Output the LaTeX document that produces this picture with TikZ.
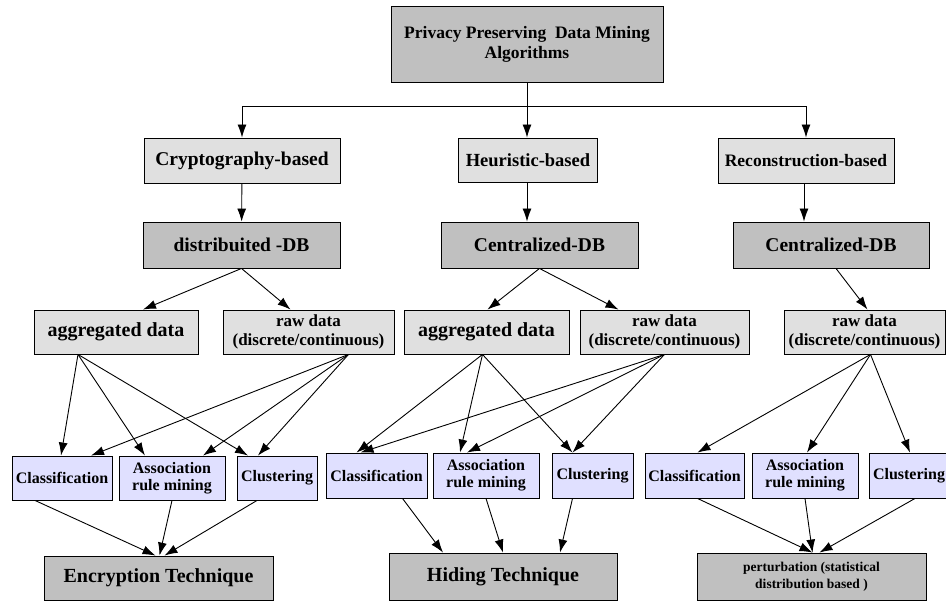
\documentclass[tikz,border=0pt]{standalone}
\usepackage{fontspec}
\setmainfont{Liberation Serif}
\usetikzlibrary{arrows.meta}
\tikzset{>={Latex[length=13pt,width=9pt]}}
\definecolor{boxdark}{HTML}{C0C0C0}
\definecolor{boxlight}{HTML}{E0E0E0}
\definecolor{boxalgo}{HTML}{E0E0FF}
\newcommand{\fsz}[2]{\bfseries\fontsize{#1}{#2}\selectfont}

\begin{document}
\begin{tikzpicture}[x=1pt,y=-1pt,line width=0.9pt,
  wh/.style 2 args={minimum width=#1pt,minimum height=#2pt},
  dark/.style={draw,fill=boxdark,inner sep=0pt,align=center},
  light/.style={draw,fill=boxlight,inner sep=0pt,align=center},
  algo/.style={draw,fill=boxalgo,inner sep=0pt,align=center,font=\fsz{16}{17}}]
\useasboundingbox (0,0) rectangle (946,601);
    \node[dark,wh={272}{76},font=\fsz{17.5}{20}] (ppdm) at (527,44) {Privacy Preserving\ \ Data Mining\\Algorithms};
    \node[light,wh={196}{45},font=\fsz{19.5}{22}] (crypto) at (242,160.5) {Cryptography-based};
    \node[light,wh={139}{44},font=\fsz{18.5}{21}] (heur) at (528,160) {Heuristic-based};
    \node[light,wh={176}{45},font=\fsz{17.5}{20}] (recon) at (806,160.5) {Reconstruction-based};
    \node[dark,wh={197}{46},font=\fsz{19.5}{22}] (ddb) at (241.5,245) {distribuited -DB};
    \node[dark,wh={197}{46},font=\fsz{19.5}{22}] (cdb1) at (539.5,245) {Centralized-DB};
    \node[dark,wh={196}{46},font=\fsz{19.5}{22}] (cdb2) at (831,245) {Centralized-DB};
    \node[light,wh={164}{44},font=\fsz{20}{22}] (agg1) at (116,332) {aggregated data};
    \node[light,wh={171}{44},font=\fsz{17}{19}] (raw1) at (308.5,332) {raw data\\(discrete/continuous)};
    \node[light,wh={165}{44},font=\fsz{20}{22}] (agg2) at (486.5,332) {aggregated data};
    \node[light,wh={169}{44},font=\fsz{17}{19}] (raw2) at (664.5,332) {raw data\\(discrete/continuous)};
    \node[light,wh={161}{44},font=\fsz{17}{19}] (raw3) at (864.5,332) {raw data\\(discrete/continuous)};
    \node[algo,wh={100}{44}] (cls1) at (62,478) {Classification};
    \node[algo,wh={106}{44}] (asc1) at (172,478) {Association\\rule mining};
    \node[algo,wh={80}{44}] (clu1) at (277,478) {Clustering};
    \node[algo,wh={101}{45}] (cls2) at (376.5,475.5) {Classification};
    \node[algo,wh={106}{45}] (asc2) at (486,475.5) {Association\\rule mining};
    \node[algo,wh={81}{45}] (clu2) at (592.5,475.5) {Clustering};
    \node[algo,wh={99}{45}] (cls3) at (694.5,475.5) {Classification};
    \node[algo,wh={106}{45}] (asc3) at (805,475.5) {Association\\rule mining};
    \node[algo,wh={80}{45}] (clu3) at (909,475.5) {Clustering};
    \node[dark,wh={229}{44},font=\fsz{20}{22}] (enc) at (158.5,578) {Encryption Technique};
    \node[dark,wh={228}{47},font=\fsz{20}{22}] (hid) at (503,576.5) {Hiding Technique};
    \node[dark,wh={229}{47},font=\fsz{13.5}{17}] (pert) at (811.5,576.5) {perturbation (statistical\\distribution based )};
    \draw[->] (ppdm.south) -- ++(0,24) coordinate (fork) -| (crypto.north);
    \draw[->] (fork) -| (recon.north);
    \draw[->] (fork) -- (fork |- heur.north);
    \draw[->] (crypto) -- (ddb);
    \draw[->] (heur.south -| fork) -- (fork |- cdb1.north);
    \draw[->] ([xshift=-2pt]recon.south) -- ([xshift=-2pt]recon.south |- cdb2.north);
    \draw[->] (ddb.south) -- ([xshift=27pt]agg1.north);
    \draw[->] (ddb.south) -- ([xshift=-18pt]raw1.north);
    \draw[->] (cdb1.south) -- ([xshift=1pt]agg2.north);
    \draw[->] (cdb1.south) -- ([xshift=-46pt]raw2.north);
    \draw[->] ([xshift=5pt]cdb2.south) -- ([xshift=3pt]raw3.north);
    \draw[->] ([xshift=-38pt]agg1.south) -- ([xshift=-1pt]cls1.north);
    \draw[->] ([xshift=-38pt]agg1.south) -- ([xshift=-27pt]asc1.north);
    \draw[->] ([xshift=-38pt]agg1.south) -- ([xshift=-29pt]clu1.north);
    \draw[->] ([xshift=40pt]raw1.south) -- ([xshift=29pt]cls1.north);
    \draw[->] ([xshift=40pt]raw1.south) -- ([xshift=31pt]asc1.north);
    \draw[->] ([xshift=40pt]raw1.south) -- ([xshift=-19pt]clu1.north);
    \draw[->] ([xshift=-4pt]agg2.south) -- ([xshift=-20pt]cls2.north);
    \draw[->] ([xshift=-4pt]agg2.south) -- ([xshift=-26pt]asc2.north);
    \draw[->] ([xshift=-4pt]agg2.south) -- ([xshift=-20pt]clu2.north);
    \draw[->] (raw2.south) -- ([xshift=-16pt]cls2.north);
    \draw[->] (raw2.south) -- ([xshift=-19pt]asc2.north);
    \draw[->] (raw2.south) -- ([xshift=-20pt]clu2.north);
    \draw[->] ([xshift=6pt]raw3.south) -- ([xshift=3pt]cls3.north);
    \draw[->] ([xshift=6pt]raw3.south) -- ([xshift=2pt]asc3.north);
    \draw[->] ([xshift=6pt]raw3.south) -- ([xshift=1pt]clu3.north);
    \draw[->] ([xshift=-27pt]cls1.south) -- ([xshift=-3pt]enc.north);
    \draw[->] (asc1.south) -- ([xshift=1pt]enc.north);
    \draw[->] ([xshift=-20pt]clu1.south) -- ([xshift=6pt]enc.north);
    \draw[->] ([xshift=26pt]cls2.south) -- ([xshift=-60pt]hid.north);
    \draw[->] (asc2.south) -- (hid.north);
    \draw[->] ([xshift=-20pt]clu2.south) -- ([xshift=57pt]hid.north);
    \draw[->] ([xshift=3pt]cls3.south) -- ([xshift=1pt]pert.north);
    \draw[->] (asc3.south) -- ([xshift=1pt]pert.north);
    \draw[->] ([xshift=6pt]clu3.south) -- ([xshift=8pt]pert.north);
\end{tikzpicture}
\end{document}
